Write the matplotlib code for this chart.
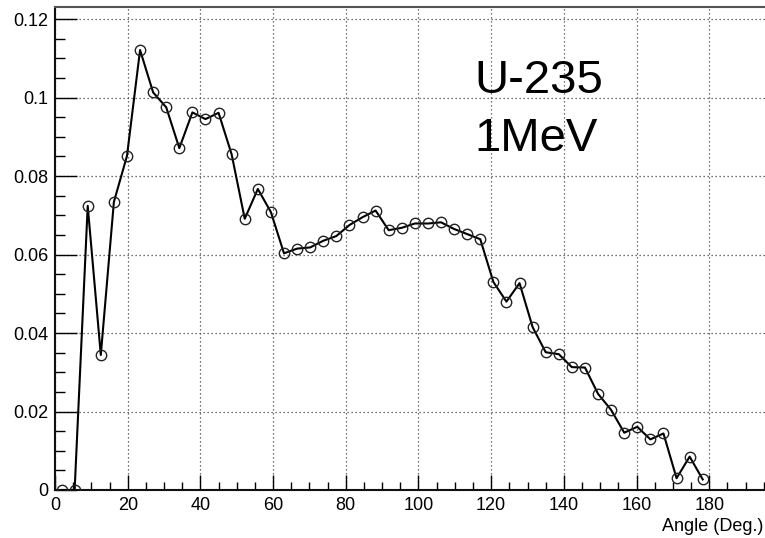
import matplotlib
matplotlib.use("Agg")
import matplotlib.pyplot as plt
from matplotlib.ticker import MultipleLocator, FixedLocator, FixedFormatter

plt.rcParams['font.family'] = ['Liberation Sans', 'DejaVu Sans']

angles = [1.8, 5.4, 9.0, 12.6, 16.2, 19.8, 23.4, 27.0, 30.6, 34.2,
          37.8, 41.4, 45.0, 48.6, 52.2, 55.8, 59.4, 63.0, 66.6, 70.2,
          73.8, 77.4, 81.0, 84.6, 88.2, 91.8, 95.4, 99.0, 102.6, 106.2,
          109.8, 113.4, 117.0, 120.6, 124.2, 127.8, 131.4, 135.0, 138.6, 142.2,
          145.8, 149.4, 153.0, 156.6, 160.2, 163.8, 167.4, 171.0, 174.6, 178.2]
values = [0.0, 0.0, 0.0724, 0.0344, 0.0734, 0.0851, 0.1121, 0.1013, 0.0975, 0.0871,
          0.0962, 0.0945, 0.0961, 0.0855, 0.0691, 0.0767, 0.0708, 0.0603, 0.0615, 0.0618,
          0.0635, 0.0647, 0.0675, 0.0695, 0.0712, 0.0662, 0.0668, 0.0679, 0.0679, 0.0682,
          0.0665, 0.0652, 0.0639, 0.0530, 0.0480, 0.0527, 0.0415, 0.0351, 0.0346, 0.0313,
          0.0312, 0.0245, 0.0204, 0.0146, 0.0161, 0.0129, 0.0144, 0.0030, 0.0085, 0.0027]

x_ticks = [0, 20, 40, 60, 80, 100, 120, 140, 160, 180]
y_ticks = [0, 0.02, 0.04, 0.06, 0.08, 0.1, 0.12]
y_tick_labels = ["0", "0.02", "0.04", "0.06", "0.08", "0.1", "0.12"]
x_label = "Angle (Deg.)"
annotation_lines = ["U-235", "1MeV"]

W, H = 765, 538
fig = plt.figure(figsize=(W / 100, H / 100), dpi=100)
left, right, top, bottom = 55, 774.7, 7, 490
ax = fig.add_axes([left / W, 1 - bottom / H, (right - left) / W, (bottom - top) / H])

ax.plot(angles, values, color='black', lw=1.5, marker='o', ms=7.5,
        mfc='none', mec='#222222', mew=1.0, zorder=3)

ax.set_xlim(0, 198)
ax.set_ylim(0, 0.12306)

ax.xaxis.set_major_locator(FixedLocator(x_ticks))
ax.xaxis.set_minor_locator(MultipleLocator(5))
ax.yaxis.set_major_locator(FixedLocator(y_ticks))
ax.yaxis.set_major_formatter(FixedFormatter(y_tick_labels))
ax.yaxis.set_minor_locator(MultipleLocator(0.005))

ax.tick_params(axis='x', which='major', direction='in', length=11, width=1,
               labelsize=13, pad=5, top=False)
ax.tick_params(axis='x', which='minor', direction='in', length=5.5, width=1, top=False)
ax.tick_params(axis='y', which='major', direction='in', length=16, width=1,
               labelsize=13, pad=5, right=False)
ax.tick_params(axis='y', which='minor', direction='in', length=7.5, width=1, right=False)

ax.grid(True, which='major', color='#444444', lw=0.9, linestyle=(0, (1, 2.2)))
ax.set_axisbelow(True)

for s in ['left', 'bottom']:
    ax.spines[s].set_linewidth(1.5)
    ax.spines[s].set_color('#111111')
ax.spines['top'].set_linewidth(1.5)
ax.spines['top'].set_color('#555555')
ax.spines['right'].set_visible(False)

fig.text(763 / W, 1 - 531 / H, x_label, ha='right', va='baseline', fontsize=13)
fig.text(474 / W, 1 - 93 / H, annotation_lines[0], ha='left', va='baseline', fontsize=34)
fig.text(474 / W, 1 - 151 / H, annotation_lines[1], ha='left', va='baseline', fontsize=34)

fig.savefig("out.png", dpi=100)
